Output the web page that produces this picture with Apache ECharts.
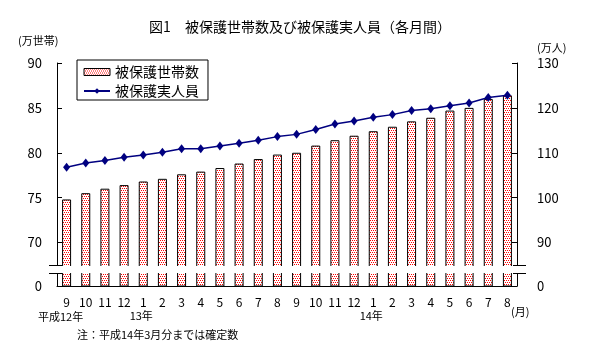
<!DOCTYPE html>
<html>
<head>
<meta charset="utf-8">
<script src="https://cdn.jsdelivr.net/npm/echarts@6/dist/echarts.min.js"></script>
<style>
  body { margin: 0; background: #fff; }
  #chart { width: 600px; height: 354px; }
</style>
</head>
<body>
<div id="chart"></div>
<script>
// 横軸の月
var months = ['9', '10', '11', '12', '1', '2', '3', '4', '5', '6', '7', '8',
  '9', '10', '11', '12', '1', '2', '3', '4', '5', '6', '7', '8'];
// 月の下に出す年
var yearNotes = { 0: '平成12年', 4: '13年', 16: '14年' };
// 被保護世帯数（万世帯）
var households = [74.8, 75.5, 76.0, 76.4, 76.8, 77.1, 77.6, 77.9, 78.3, 78.8, 79.3, 79.8,
  80.0, 80.8, 81.4, 81.9, 82.4, 82.9, 83.5, 83.9, 84.7, 85.0, 86.0, 86.4];
// 被保護実人員（万人）
var persons = [106.8, 107.7, 108.3, 109.0, 109.5, 110.1, 110.9, 110.9, 111.5, 112.1, 112.8, 113.6,
  114.1, 115.2, 116.4, 117.1, 117.9, 118.5, 119.4, 119.8, 120.5, 121.1, 122.3, 122.8];
var leftTicks = [70, 75, 80, 85, 90];
var rightTicks = [90, 100, 110, 120, 130];

var FONT = '"Noto Sans CJK JP", sans-serif';
// 軸は途中で切れている：下の短い区間を「0」として扱い、間を白で消す
var plotL = 57, plotR = 517, plotTop = 63, cutY = 265, gapEndY = 273, plotBottom = 286;
var pxPerUnit = (cutY - plotTop) / (90 - 67.5);
var leftMin = 67.5 - (plotBottom - cutY) / pxPerUnit;
var rightMin = 85 - 2 * (plotBottom - cutY) / pxPerUnit;

// 赤い点々の塗り
var pat = document.createElement('canvas');
pat.width = 4; pat.height = 4;
var pctx = pat.getContext('2d');
pctx.fillStyle = '#fff';
pctx.fillRect(0, 0, 4, 4);
pctx.fillStyle = '#ff0000';
[[0, 0], [2, 0], [1, 2], [3, 2]].forEach(function (p) { pctx.fillRect(p[0], p[1], 1, 1); });
var barFill = { image: pat, repeat: 'repeat' };

function breakMark(x1, x2, y) {
  return { type: 'line', z: 101, shape: { x1: x1, y1: y, x2: x2, y2: y }, style: { stroke: '#000', lineWidth: 1 } };
}
function note(text, x, y, size) {
  return { type: 'text', left: x, top: y, style: { text: text, font: size + 'px ' + FONT, fill: '#000' } };
}

var chart = echarts.init(document.getElementById('chart'), null, { renderer: 'canvas' });
chart.setOption({
  animation: false,
  textStyle: { fontFamily: FONT, color: '#000' },
  title: {
    text: '図1　被保護世帯数及び被保護実人員（各月間）',
    left: 'center',
    top: 15,
    textStyle: { fontSize: 14, fontWeight: 'normal', color: '#000', fontFamily: FONT }
  },
  legend: {
    orient: 'vertical',
    left: 77,
    top: 60,
    padding: [4, 9, 1, 6],
    itemGap: 3,
    itemWidth: 26,
    itemHeight: 7,
    borderColor: '#000',
    borderWidth: 1,
    textStyle: { fontSize: 14, lineHeight: 16, color: '#000', fontFamily: FONT },
    data: [
      { name: '被保護世帯数', icon: 'rect', itemStyle: { borderColor: '#000', borderWidth: 1 } },
      { name: '被保護実人員' }
    ]
  },
  grid: { left: plotL, right: 600 - plotR, top: plotTop, height: plotBottom - plotTop },
  xAxis: {
    type: 'category', data: months,
    axisLine: { lineStyle: { color: '#000', width: 1 } },
    axisTick: { inside: true, length: 4, interval: 0, lineStyle: { color: '#000' } },
    axisLabel: {
      interval: 0, margin: 9, color: '#000',
      formatter: function (value, index) {
        var n = yearNotes[index];
        if (!n) return '{m|' + value + '}';
        return '{m|' + value + '}\n{' + (index === 0 ? 'y0' : 'y') + '|' + n + '}';
      },
      rich: {
        m: { fontSize: 12, lineHeight: 14, fontFamily: FONT },
        y: { fontSize: 11, lineHeight: 14, fontFamily: FONT, padding: [0, 4, 0, 0] },
        y0: { fontSize: 11, lineHeight: 16, fontFamily: FONT, padding: [0, 12, 0, 0] }
      }
    }
  },
  yAxis: [
    {
      type: 'value', position: 'left', min: leftMin, max: 90,
      splitLine: { show: false },
      axisLine: { show: true, lineStyle: { color: '#000' } },
      axisTick: { show: true, inside: true, length: 5, customValues: leftTicks, lineStyle: { color: '#000' } },
      axisLabel: {
        customValues: [leftMin].concat(leftTicks), margin: 15, fontSize: 13, color: '#000',
        formatter: function (v) { return v < 70 ? '0' : String(v); }
      }
    },
    {
      type: 'value', position: 'right', min: rightMin, max: 130,
      splitLine: { show: false },
      axisLine: { show: true, lineStyle: { color: '#000' } },
      axisTick: { show: true, inside: true, length: 5, customValues: rightTicks, lineStyle: { color: '#000' } },
      axisLabel: {
        customValues: [rightMin].concat(rightTicks), margin: 20, fontSize: 13, color: '#000',
        formatter: function (v) { return v < 90 ? '0' : String(v); }
      }
    }
  ],
  series: [
    {
      name: '被保護世帯数', type: 'bar', yAxisIndex: 0,
      barWidth: 9, clip: true,
      itemStyle: { color: barFill, borderColor: '#000', borderWidth: 1 },
      data: households, z: 2
    },
    {
      name: '被保護実人員', type: 'line', yAxisIndex: 1,
      symbol: 'diamond', symbolSize: [7, 9],
      itemStyle: { color: '#000080' },
      lineStyle: { color: '#000080', width: 1.5 },
      data: persons, z: 5
    }
  ],
  graphic: [
    // 切れ目
    { type: 'rect', z: 100, shape: { x: plotL - 10, y: cutY + 1, width: plotR - plotL + 22, height: gapEndY - cutY - 1 }, style: { fill: '#fff' } },
    breakMark(plotL - 8, plotL + 5, cutY + 0.5),
    breakMark(plotL - 8, plotL + 5, gapEndY + 0.5),
    breakMark(plotR - 4, plotR + 9, cutY + 0.5),
    breakMark(plotR - 4, plotR + 9, gapEndY + 0.5),
    note('(万世帯)', 18, 35, 11),
    note('(万人)', 537, 42, 11),
    note('(月)', 511, 306, 11),
    note('注：平成14年3月分までは確定数', 77, 329, 11)
  ]
});
</script>
</body>
</html>
